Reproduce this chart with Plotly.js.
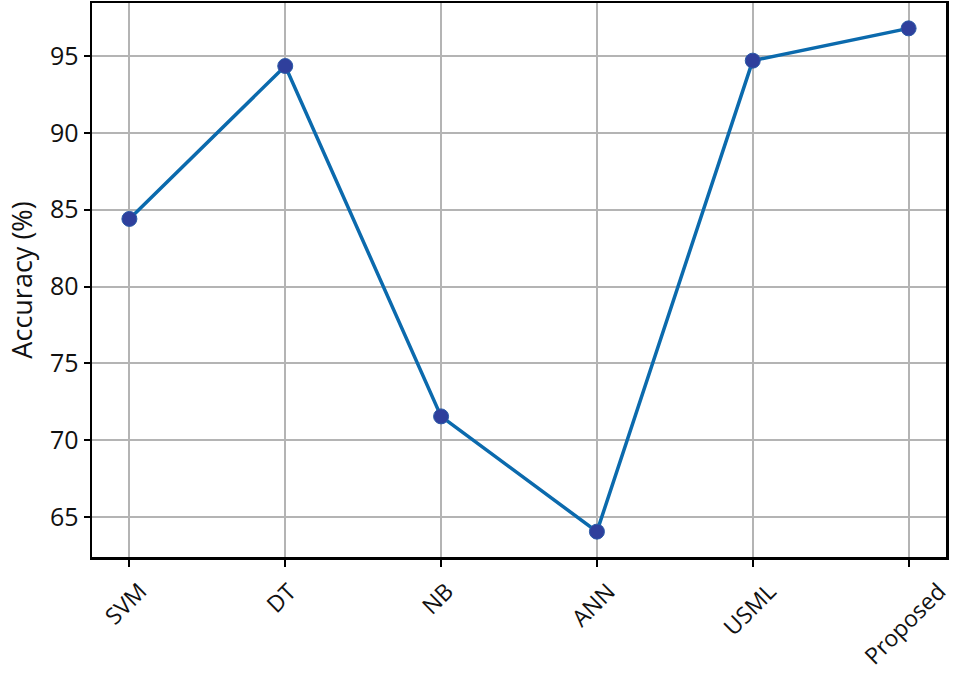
<!DOCTYPE html>
<html>
<head>
<meta charset="utf-8">
<script src="https://cdn.plot.ly/plotly-3.0.1.min.js"></script>
<style>
  html, body { margin: 0; padding: 0; background: #fff; }
  #chart { width: 955px; height: 677px; }
</style>
</head>
<body>
<div id="chart"></div>
<script>
// categorias y valores
const metodos = ['SVM', 'DT', 'NB', 'ANN', 'USML', 'Proposed'];
const precision = [84.4, 94.35, 71.55, 64.05, 94.7, 96.8];
const yTicks = [65, 70, 75, 80, 85, 90, 95];

const data = [{
    x: metodos,
    y: precision,
    type: 'scatter',
    mode: 'lines+markers',
    line: { color: '#0b6aad', width: 3.5 },
    marker: { color: '#2f3f9c', size: 15, line: { color: '#2a5aa8', width: 1 } },
    hoverinfo: 'x+y'
}];

const tickFont = { family: 'Open Sans, sans-serif', size: 25, color: '#111' };
const xLabelFont = { family: 'Open Sans, sans-serif', size: 23, color: '#111' };
const titleFont = { family: 'Open Sans, sans-serif', size: 27, color: '#111' };

// etiquetas del eje x centradas bajo cada marca, giradas 45 grados
const etiquetas = metodos.map(m => ({
    x: m,
    xref: 'x',
    y: 0,
    yref: 'paper',
    text: m,
    showarrow: false,
    textangle: -45,
    xanchor: 'center',
    yanchor: 'top',
    xshift: -4,
    yshift: -17,
    borderpad: 0,
    font: xLabelFont
}));

const layout = {
    width: 955,
    height: 677,
    margin: { l: 92, r: 9, t: 3, b: 120 },
    paper_bgcolor: '#fff',
    plot_bgcolor: '#fff',
    showlegend: false,
    annotations: etiquetas,
    xaxis: {
        type: 'category',
        range: [-0.24, 5.24],
        showticklabels: false,
        ticks: 'outside',
        ticklen: 7,
        tickwidth: 2,
        tickcolor: '#000',
        showgrid: true,
        gridcolor: '#b4b4b4',
        gridwidth: 2,
        showline: true,
        linecolor: '#000',
        linewidth: 2.5,
        mirror: true,
        zeroline: false
    },
    yaxis: {
        title: { text: 'Accuracy (%)', font: titleFont, standoff: 10 },
        range: [62.4, 98.45],
        tickvals: yTicks,
        ticktext: yTicks.map(String),
        tickfont: tickFont,
        ticks: 'outside',
        ticklen: 6,
        tickwidth: 2,
        tickcolor: '#000',
        showgrid: true,
        gridcolor: '#b4b4b4',
        gridwidth: 2,
        showline: true,
        linecolor: '#000',
        linewidth: 2.5,
        mirror: true,
        zeroline: false
    }
};

Plotly.newPlot('chart', data, layout, { displayModeBar: false, staticPlot: true });
</script>
</body>
</html>
